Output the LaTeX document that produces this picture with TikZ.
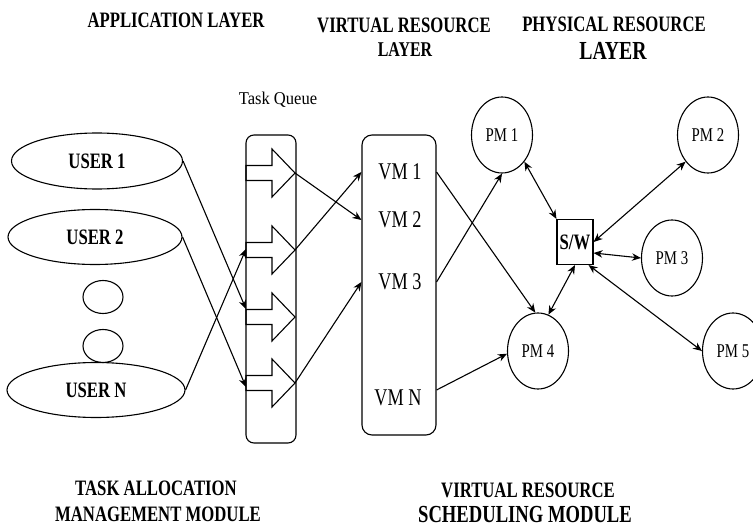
\documentclass[tikz,border=0pt]{standalone}
\usepackage{fontspec}
\setmainfont{Liberation Serif}[FakeStretch=0.76]
\newfontfamily\tqfont{Liberation Serif}[FakeStretch=0.92]
\usetikzlibrary{arrows.meta,shapes.geometric,calc}
\begin{document}
\begin{tikzpicture}[x=1pt,y=-1pt, line width=1.1pt,
  arr/.style={-{Stealth[length=9pt,width=7.5pt]}},
  darr/.style={{Stealth[length=9pt,width=7.5pt]}-{Stealth[length=9pt,width=7.5pt]}},
  ttl/.style={font=\fontsize{22}{26}\selectfont\bfseries, anchor=base, inner sep=0pt},
  usr/.style={draw, ellipse, inner sep=0pt, font=\fontsize{22}{26}\selectfont\bfseries},
  dot/.style={draw, ellipse, inner sep=0pt, minimum width=40pt, minimum height=33pt},
  pm/.style={draw, ellipse, minimum width=61pt, minimum height=76pt, inner sep=0pt, font=\fontsize{19.5}{22}\selectfont},
  vml/.style={font=\fontsize{24}{28}\selectfont, inner sep=0pt},
  col/.style={draw, inner sep=0pt},
]
\useasboundingbox (0,0) rectangle (753,527);

% titles
\node[ttl] (tapp) at (176,28) {APPLICATION LAYER};
\node[ttl] (tvr1) at (404,33) {VIRTUAL RESOURCE};
\node[ttl, font=\fontsize{21}{24}\selectfont\bfseries] (tvr2) at (405,57) {LAYER};
\node[ttl] (tpr1) at (614,32) {PHYSICAL RESOURCE};
\node[ttl, font=\fontsize{26}{30}\selectfont\bfseries] (tpr2) at (613,60) {LAYER};
\node[anchor=base, inner sep=0pt, font=\tqfont\fontsize{18}{21}\selectfont] (tq) at (278,104) {Task Queue};

\node[ttl] (b1) at (156,495) {TASK ALLOCATION};
\node[ttl] (b2) at (158,521) {MANAGEMENT MODULE};
\node[ttl] (b3) at (528,497) {VIRTUAL RESOURCE};
\node[ttl, font=\fontsize{24.5}{28}\selectfont\bfseries] (b4) at (525,522) {SCHEDULING MODULE};

% users
\node[usr, minimum width=171pt, minimum height=56pt] (u1) at (97,161) {USER 1};
\node[usr, minimum width=174pt, minimum height=55pt] (u2) at (95,237) {USER 2};
\node[dot] (d1) at (103,297) {};
\node[dot] (d2) at (103,346) {};
\node[usr, minimum width=178pt, minimum height=55pt] (uN) at (96,390) {USER N};

% task queue
\node[col, rounded corners=8pt, minimum width=50pt, minimum height=308pt] (tqbox) at (271,289) {};
\foreach \c [count=\i] in {173,250,317,383} {
  \draw (246,\c-7.5) -- (272,\c-7.5) -- (272,\c-24) -- (295,\c) -- (272,\c+24) -- (272,\c+7.5) -- (246,\c+7.5) -- cycle;
  \coordinate (q\i-tail) at (246,\c);
  \coordinate (q\i-tip) at (295,\c);
}

% VM box
\node[col, rounded corners=10pt, minimum width=74pt, minimum height=300pt] (vmbox) at (399,285) {};
\node[vml] (vm1) at (400,172) {VM 1};
\node[vml] (vm2) at (400,220) {VM 2};
\node[vml] (vm3) at (400,282) {VM 3};
\node[vml] (vmN) at (398,398) {VM N};

% PMs and switch
\node[pm] (pm1) at (502,135) {PM 1};
\node[pm] (pm2) at (708,135) {PM 2};
\node[pm] (pm3) at (672,258) {PM 3};
\node[pm] (pm4) at (538,351) {PM 4};
\node[pm] (pm5) at (733,351) {PM 5};
\node[draw, minimum width=36pt, minimum height=45pt, inner sep=0pt, font=\fontsize{22}{26}\selectfont\bfseries] (sw) at (575,242) {S/W};

% users -> queue
\draw[arr] (u1.east) -- ($(q3-tail)+(0,-8)$);
\draw[arr] (u2.east) -- ($(q4-tail)+(0,4)$);
\draw[arr] (uN.east) -- ($(q2-tail)+(0,-1)$);

% queue -> VMs
\draw[arr] (q1-tip) -- (vmbox.west |- vm2);
\draw[arr] (q2-tip) -- (vmbox.west |- vm1);
\draw[arr] (q4-tip) -- (vmbox.west |- vm3);

% VMs -> PMs
\draw[arr] (vmbox.east |- vm1) -- (pm4.94);
\draw[arr] (vmbox.east |- vm3) -- (pm1.south);
\draw[arr] ($(vmbox.east |- vmN)+(0,-8)$) -- (pm4.185);

% switch links
\draw[darr] (pm1.-50) -- (sw.north west);
\draw[darr] (pm2.230) -- (sw.east);
\draw[darr] ($(sw.east)+(0,11)$) -- (pm3.west);
\draw[darr] (sw.south) -- (pm4.74);
\draw[darr] ($(sw.south east)+(-5,0)$) -- (pm5.west);
\end{tikzpicture}
\end{document}
